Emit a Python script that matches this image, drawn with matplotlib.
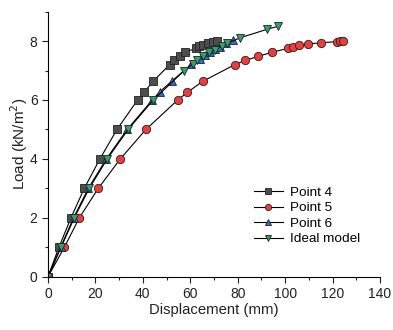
import matplotlib
matplotlib.use('Agg')
import matplotlib.pyplot as plt
import matplotlib.ticker as ticker

plt.rcParams['font.family'] = ['Liberation Sans', 'DejaVu Sans']

# Point 4
p4_disp = [0, 4.6, 9.7, 15.3, 21.9, 29.1, 37.8, 40.5, 44.3, 51.3, 53.3, 55.5,
           57.8, 62.3, 63.6, 65.3, 67.6, 69.7, 71.1]
p4_load = [0, 1, 2, 3, 4, 5, 6.0, 6.26, 6.63, 7.2, 7.35, 7.48, 7.62, 7.75,
           7.82, 7.88, 7.94, 7.98, 8.0]

# Point 5
p5_disp = [0, 6.9, 13.2, 21.2, 30.5, 41.3, 54.7, 58.8, 65.2, 78.8, 83.2, 88.6,
           94.5, 101.2, 103.5, 105.7, 109.7, 115.0, 122.0, 123.2, 124.3]
p5_load = [0, 1, 2, 3, 4, 5, 6.0, 6.26, 6.63, 7.2, 7.34, 7.48, 7.62, 7.75,
           7.8, 7.85, 7.9, 7.94, 7.98, 7.99, 8.0]

# Point 6
p6_disp = [0, 5.3, 10.8, 17.0, 24.6, 33.4, 44.0, 47.2, 52.2, 60.5, 64.0, 66.2,
           68.2, 70.5, 72.5, 75.1, 78.2]
p6_load = [0, 1, 2, 3, 4, 5, 6.0, 6.28, 6.64, 7.21, 7.4, 7.52, 7.64, 7.73,
           7.81, 7.92, 8.05]

# Ideal model
ideal_disp = [0, 5.5, 11.1, 17.4, 25.0, 33.8, 44.4, 57.5, 61.0, 63.0, 65.5,
              68.0, 70.4, 73.3, 75.6, 81.0, 92.5, 97.0]
ideal_load = [0, 1, 2, 3, 4, 5, 6, 7, 7.22, 7.36, 7.48, 7.62, 7.7, 7.83,
              7.92, 8.11, 8.4, 8.5]

fig = plt.figure(figsize=(3.93, 3.3), dpi=100)
ax = fig.add_axes([0.122, 0.161, 0.845, 0.804])

ax.plot(p4_disp, p4_load, color='black', lw=0.8, marker='s', ms=5.5,
        mfc='#4d4d4d', mec='#222222', mew=0.6, label='Point 4')
ax.plot(p5_disp, p5_load, color='black', lw=0.8, marker='o', ms=6,
        mfc='#ee3b3b', mec='#222222', mew=0.6, label='Point 5')
ax.plot(p6_disp, p6_load, color='black', lw=0.8, marker='^', ms=6,
        mfc='#2a6fd1', mec='#222222', mew=0.6, label='Point 6')
ax.plot(ideal_disp, ideal_load, color='black', lw=0.8, marker='v', ms=6,
        mfc='#2fa36a', mec='#222222', mew=0.6, label='Ideal model')

ax.set_xlim(0, 140)
ax.set_ylim(0, 9)
ax.xaxis.set_major_locator(ticker.MultipleLocator(20))
ax.xaxis.set_minor_locator(ticker.MultipleLocator(10))
ax.yaxis.set_major_locator(ticker.MultipleLocator(2))
ax.yaxis.set_minor_locator(ticker.MultipleLocator(1))
ax.tick_params(which='both', direction='out', labelsize=10, colors='#222222')
ax.tick_params(which='major', length=4, width=0.8)
ax.tick_params(which='minor', length=2.5, width=0.8)

for s in ['top', 'right']:
    ax.spines[s].set_visible(False)

ax.set_xlabel('Displacement (mm)', fontsize=10.7, color='#222222', labelpad=1)
ax.set_ylabel('Load (kN/m$^2$)', fontsize=11, color='#222222', labelpad=0)

ax.legend(loc='upper left', bbox_to_anchor=(0.62, 0.34), frameon=False,
          fontsize=9.7, handlelength=2.15, labelspacing=0.22,
          handletextpad=0.5, borderpad=0, borderaxespad=0, markerscale=0.75)

fig.savefig('out.png', dpi=100)
